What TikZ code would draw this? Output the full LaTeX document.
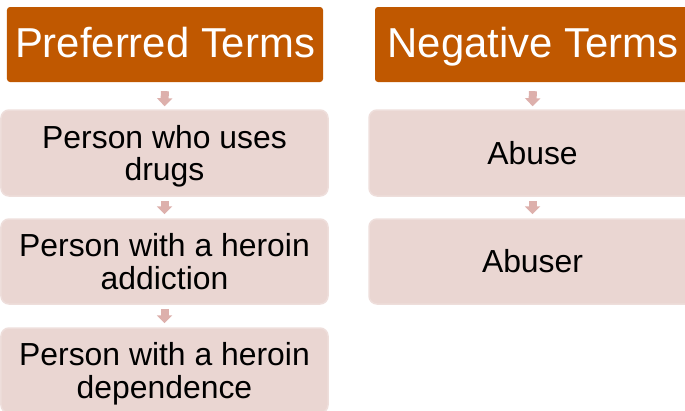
\documentclass[tikz,border=0pt]{standalone}
\usepackage{fontspec}
\setmainfont{Liberation Sans}
\usetikzlibrary{arrows.meta}
\definecolor{hdr}{RGB}{192,88,0}
\definecolor{pinkfill}{RGB}{234,214,210}
\definecolor{pinkedge}{RGB}{238,222,219}
\definecolor{arrowpink}{RGB}{221,176,172}
\tikzset{
  header/.style={rectangle, rounded corners=3bp, fill=hdr, text=white,
    minimum width=316bp, minimum height=75bp, inner sep=0pt,
    text height=29.5bp, text depth=4bp,
    font=\fontsize{42}{50}\selectfont},
  termbox/.style={rectangle, rounded corners=8bp, fill=pinkfill, draw=pinkedge,
    line width=1.5bp, minimum width=327bp, minimum height=85bp, inner sep=0pt,
    align=center, text=black, font=\fontsize{32}{33}\selectfont},
  flowarrow/.style={draw=arrowpink, line width=8bp, line cap=butt,
    -{Triangle[width=15bp,length=8bp]}, arrowpink}
}
\begin{document}
\begin{tikzpicture}[x=1bp,y=-1bp]
\useasboundingbox (0,0) rectangle (685,410);
\clip (0,0) rectangle (685,410);
% left column
\node[header] (h1) at (165,44.5) {Preferred Terms};
\node[termbox, minimum height=86bp] (p1) at (164.5,153) {Person who uses\\\smash{drugs}};
\node[termbox] (p2) at (164.5,261.5) {Person with a heroin\\addiction};
\node[termbox] (p3) at (164.5,370.5) {Person with a heroin\\\smash{dependence}};
% right column
\node[header] (h2) at (533,44.5) {Negative Terms};
\node[termbox, minimum height=86bp] (n1) at (532.5,153) {Abuse};
\node[termbox] (n2) at (532.5,261.5) {Abuser};
% arrows
\draw[flowarrow, shorten <=9bp, shorten >=3bp] (h1.south) -- (p1.north);
\draw[flowarrow, shorten <=4bp, shorten >=4bp] (p1.south) -- (p2.north);
\draw[flowarrow, shorten <=4bp, shorten >=4bp] (p2.south) -- (p3.north);
\draw[flowarrow, shorten <=9bp, shorten >=3bp] (h2.south) -- (n1.north);
\draw[flowarrow, shorten <=4bp, shorten >=4bp] (n1.south) -- (n2.north);
\end{tikzpicture}
\end{document}
